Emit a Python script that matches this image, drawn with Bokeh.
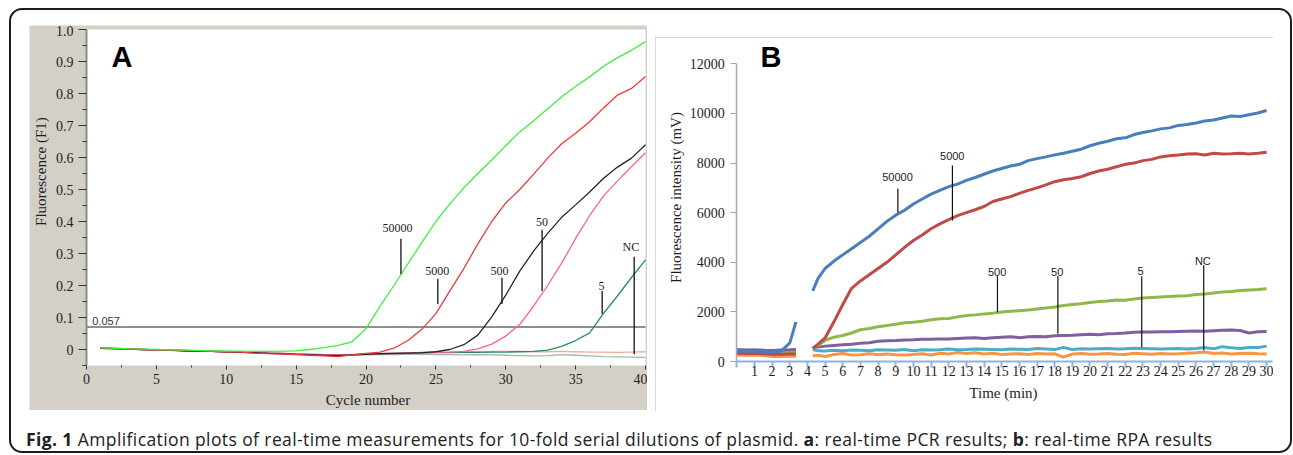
import math
from bokeh.plotting import figure
from bokeh.models import FixedTicker, Label, Div, PrintfTickFormatter, BoxAnnotation
from bokeh.layouts import row, column
from bokeh.embed import file_html
from bokeh.resources import INLINE
from bokeh.core.properties import value

NAN = float("nan")

# ---------------- Panel A : real-time PCR ----------------
cycles = list(range(1, 41))
a_50000 = [0.006, 0.004, 0.002, 0.001, 0.000, -0.001, -0.002, -0.003, -0.004, -0.005,
           -0.005, -0.006, -0.006, -0.005, -0.004, 0.000, 0.006, 0.013, 0.024, 0.065,
           0.135, 0.200, 0.268, 0.335, 0.400, 0.455, 0.505, 0.550, 0.592, 0.637,
           0.680, 0.715, 0.752, 0.790, 0.822, 0.852, 0.885, 0.912, 0.935, 0.962]
a_5000 = [0.005, 0.003, 0.002, 0.000, -0.001, -0.002, -0.003, -0.004, -0.006, -0.007,
          -0.008, -0.011, -0.013, -0.014, -0.016, -0.018, -0.020, -0.022, -0.017, -0.012,
          -0.008, 0.004, 0.028, 0.063, 0.112, 0.183, 0.253, 0.330, 0.400, 0.458,
          0.500, 0.548, 0.598, 0.643, 0.676, 0.712, 0.755, 0.795, 0.816, 0.853]
a_500 = [0.004, 0.003, 0.001, 0.000, -0.001, -0.002, -0.004, -0.005, -0.006, -0.007,
         -0.009, -0.010, -0.012, -0.013, -0.015, -0.016, -0.018, -0.019, -0.017, -0.015,
         -0.013, -0.012, -0.011, -0.010, -0.007, 0.000, 0.015, 0.045, 0.102, 0.170,
         0.245, 0.308, 0.363, 0.413, 0.452, 0.492, 0.535, 0.570, 0.598, 0.640]
a_50 = [0.005, 0.003, 0.002, 0.000, -0.001, -0.002, -0.003, -0.005, -0.006, -0.007,
        -0.008, -0.009, -0.011, -0.012, -0.014, -0.015, -0.016, -0.017, -0.016, -0.014,
        -0.013, -0.012, -0.011, -0.010, -0.009, -0.008, -0.006, 0.002, 0.017, 0.042,
        0.078, 0.136, 0.200, 0.270, 0.347, 0.418, 0.480, 0.527, 0.572, 0.615]
a_5 = [0.004, 0.003, 0.001, 0.000, -0.001, -0.003, -0.004, -0.005, -0.006, -0.007,
       -0.008, -0.010, -0.011, -0.012, -0.014, -0.015, -0.016, -0.017, -0.016, -0.015,
       -0.014, -0.013, -0.012, -0.011, -0.010, -0.010, -0.009, -0.009, -0.008, -0.008,
       -0.007, -0.006, -0.002, 0.010, 0.028, 0.052, 0.113, 0.168, 0.225, 0.280]
a_nc1 = [0.005, 0.004, 0.002, 0.001, -0.001, -0.002, -0.003, -0.004, -0.005, -0.006,
         -0.007, -0.009, -0.010, -0.012, -0.013, -0.015, -0.016, -0.017, -0.016, -0.014,
         -0.012, -0.011, -0.010, -0.009, -0.008, -0.008, -0.007, -0.007, -0.006, -0.006,
         -0.006, -0.007, -0.007, -0.006, -0.007, -0.008, -0.008, -0.009, -0.008, -0.007]
a_nc2 = [0.004, 0.003, 0.001, 0.000, -0.002, -0.003, -0.004, -0.005, -0.006, -0.008,
         -0.009, -0.010, -0.012, -0.013, -0.015, -0.016, -0.018, -0.019, -0.018, -0.017,
         -0.016, -0.016, -0.015, -0.015, -0.016, -0.016, -0.017, -0.016, -0.017, -0.018,
         -0.019, -0.020, -0.019, -0.016, -0.018, -0.020, -0.022, -0.023, -0.024, -0.025]
a_threshold = 0.07
a_threshold_text = "0.057"

a_lab_text = ["50000", "5000", "500", "50", "5", "NC"]
a_lab_x = [22.5, 25.14, 29.73, 32.6, 36.9, 39.19]
a_lab_y0 = [0.236, 0.142, 0.142, 0.183, 0.111, -0.015]
a_lab_y1 = [0.346, 0.221, 0.224, 0.374, 0.183, 0.290]
a_txt_x = [22.26, 25.09, 29.55, 32.6, 36.85, 38.95]
a_txt_y = [0.380, 0.246, 0.244, 0.400, 0.199, 0.321]

a_xlim = (0, 40)
a_ylim = (-0.05, 1.0)
a_xticks = [0, 5, 10, 15, 20, 25, 30, 35, 40]
a_xminor = [2.5, 7.5, 12.5, 17.5, 22.5, 27.5, 32.5, 37.5]
a_yticks = [0, 0.1, 0.2, 0.3, 0.4, 0.5, 0.6, 0.7, 0.8, 0.9, 1.0]
a_yminor = [-0.05, 0.05, 0.15, 0.25, 0.35, 0.45, 0.55, 0.65, 0.75, 0.85, 0.95]

# ---------------- Panel B : real-time RPA ----------------
b_time = [0, 0.5, 1, 1.5, 2, 2.5, 3, 3.35, NAN,
          4.3, 4.6, 5, 5.5, 6, 6.5, 7, 7.5, 8, 8.5, 9, 9.5, 10, 10.5, 11, 11.5, 12, 12.5,
          13, 13.5, 14, 14.5, 15, 15.5, 16, 16.5, 17, 17.5, 18, 18.5, 19, 19.5, 20, 20.5,
          21, 21.5, 22, 22.5, 23, 23.5, 24, 24.5, 25, 25.5, 26, 26.5, 27, 27.5, 28, 28.5,
          29, 29.5, 30]
b_50000 = [420, 410, 420, 400, 390, 410, 750, 1600, NAN,
           2850, 3350, 3750, 4050, 4300, 4550, 4800, 5050, 5350, 5650, 5900, 6100, 6350,
           6550, 6750, 6900, 7050, 7150, 7300, 7420, 7550, 7680, 7780, 7880, 7950, 8100,
           8180, 8250, 8330, 8400, 8480, 8560, 8700, 8800, 8880, 8980, 9020, 9150, 9230,
           9300, 9380, 9420, 9520, 9560, 9620, 9700, 9740, 9820, 9900, 9880, 9950, 10020,
           10120]
b_5000 = [330, 320, 330, 310, 290, 290, 300, 300, NAN,
          520, 700, 950, 1600, 2300, 2950, 3250, 3500, 3750, 4000, 4300, 4600, 4880,
          5100, 5350, 5550, 5720, 5880, 6000, 6120, 6250, 6450, 6550, 6650, 6780, 6900,
          7000, 7120, 7250, 7330, 7380, 7450, 7580, 7680, 7750, 7850, 7950, 8000, 8100,
          8150, 8250, 8300, 8330, 8370, 8380, 8330, 8400, 8370, 8380, 8400, 8370, 8400,
          8440]
b_500 = [380, 370, 370, 350, 330, 330, 340, 340, NAN,
         550, 650, 850, 980, 1050, 1150, 1280, 1330, 1400, 1450, 1500, 1560, 1580,
         1620, 1680, 1720, 1730, 1800, 1850, 1880, 1920, 1950, 2000, 2030, 2050, 2080,
         2120, 2160, 2200, 2260, 2300, 2330, 2380, 2420, 2440, 2480, 2470, 2520, 2560,
         2580, 2600, 2620, 2640, 2650, 2700, 2720, 2760, 2800, 2820, 2860, 2880, 2900,
         2930]
b_50 = [470, 460, 470, 450, 440, 460, 470, 480, NAN,
        560, 580, 620, 650, 680, 700, 740, 760, 820, 840, 850, 870, 880,
        900, 900, 910, 910, 930, 950, 960, 930, 960, 980, 1000, 960, 1000,
        1010, 1000, 1040, 1050, 1060, 1080, 1100, 1080, 1120, 1130, 1150, 1180, 1190,
        1190, 1200, 1200, 1210, 1220, 1230, 1220, 1240, 1260, 1270, 1250, 1150, 1200,
        1210]
b_5 = [470, 450, 440, 450, 430, 420, 430, 440, NAN,
       480, 430, 420, 450, 430, 460, 450, 430, 470, 460, 450, 480, 430,
       470, 460, 470, 500, 470, 480, 500, 490, 480, 470, 500, 490, 480,
       520, 500, 480, 570, 480, 510, 500, 510, 520, 500, 510, 530, 520,
       510, 500, 510, 520, 500, 520, 560, 510, 600, 550, 520, 560, 560,
       620]
b_nc = [260, 250, 260, 240, 200, 200, 210, 210, NAN,
        230, 250, 200, 280, 320, 260, 270, 310, 270, 300, 270, 260, 280,
        310, 260, 330, 300, 360, 320, 350, 300, 330, 280, 300, 310, 280,
        320, 300, 310, 180, 300, 320, 290, 300, 320, 290, 280, 330, 310,
        290, 320, 300, 310, 330, 350, 380, 320, 340, 300, 320, 330, 310,
        300]

b_lab_text = ["50000", "5000", "500", "50", "5", "NC"]
b_lab_x = [9.12, 12.21, 14.76, 18.18, 22.93, 26.44]
b_lab_y0 = [6008, 5685, 1988, 1116, 577, 444]
b_lab_y1 = [6975, 7903, 3440, 3440, 3440, 3880]
b_txt_x = [9.1, 12.2, 14.74, 18.14, 22.86, 26.39]
b_txt_y = [7420, 8290, 3620, 3620, 3660, 4060]

b_xlim = (0, 30.35)
b_ylim = (0, 12000)
b_xticks = list(range(0, 31))
b_yticks = [0, 2000, 4000, 6000, 8000, 10000, 12000]

SERIF = "Liberation Serif"
SANS = "Liberation Sans"
INK = "#1e1e1e"
GREY_BG = "#d4d0c8"

# ---------------- figure A ----------------
# the frame covers the whole grey panel; the white plotting area is a box annotation
pA = figure(width=618, height=385, x_range=(-4.079, 40.143), y_range=(-0.1906, 1.0125),
            output_backend="svg", toolbar_location=None,
            min_border=0, min_border_left=0, min_border_right=0, min_border_top=0,
            min_border_bottom=0,
            border_fill_color=GREY_BG, background_fill_color=GREY_BG)
pA.margin = (17, 8, 0, 20)
pA.title.visible = False
pA.grid.visible = False
pA.outline_line_color = None

pA.add_layout(BoxAnnotation(left=a_xlim[0], right=a_xlim[1], bottom=a_ylim[0], top=a_ylim[1],
                            fill_color="white", fill_alpha=1.0, line_color=None,
                            level="underlay"))

xa = pA.xaxis[0]
xa.fixed_location = a_ylim[0]
xa.bounds = a_xlim
xa.ticker = FixedTicker(ticks=a_xticks, minor_ticks=a_xminor)
xa.axis_line_color = None
xa.major_tick_out = 4
xa.major_tick_in = 0
xa.minor_tick_out = 2
xa.minor_tick_in = 0
xa.major_tick_line_color = "#333333"
xa.minor_tick_line_color = "#333333"
xa.major_label_text_font = SERIF
xa.major_label_text_font_size = "14px"
xa.major_label_text_color = INK
xa.major_label_standoff = 4

ya = pA.yaxis[0]
ya.fixed_location = a_xlim[0]
ya.bounds = a_ylim
ya.ticker = FixedTicker(ticks=a_yticks, minor_ticks=a_yminor)
ya.formatter = PrintfTickFormatter(format="%.1f")
ya.major_label_overrides = {0: "0"}
ya.axis_line_color = "#8c8c8c"
ya.axis_line_width = 2
ya.major_tick_out = 8
ya.major_tick_in = 0
ya.minor_tick_out = 4
ya.minor_tick_in = 0
ya.major_tick_line_color = "#333333"
ya.minor_tick_line_color = "#333333"
ya.major_label_text_font = SERIF
ya.major_label_text_font_size = "14px"
ya.major_label_text_color = INK
ya.major_label_standoff = 5

pA.add_layout(Label(x=20.14, y=-0.159, text="Cycle number", text_font=SERIF,
                    text_font_size="15px", text_color=INK, text_align="center",
                    text_baseline="middle"))
pA.add_layout(Label(x=-3.29, y=0.556, text="Fluorescence (F1)", text_font=SERIF,
                    text_font_size="15px", text_color=INK, text_align="center",
                    text_baseline="middle", angle=math.pi / 2))

pA.segment(x0=[a_xlim[0]], y0=[a_threshold], x1=[a_xlim[1]], y1=[a_threshold],
           line_color="#6a6a6a", line_width=1.5)
pA.add_layout(Label(x=0.41, y=0.078, text=a_threshold_text, text_font=SANS,
                    text_font_size="11px", text_color="#333333"))

a_series = [(a_nc2, "#a3b8aa"), (a_nc1, "#f6ab9e"), (a_5, "#2a8a63"), (a_50, "#ff5f9a"),
            (a_500, "#252525"), (a_5000, "#f03a3a"), (a_50000, "#3ef03e")]
for vals, col in a_series:
    pA.line(cycles, vals, line_color=col, line_width=1.3)

pA.segment(x0=a_lab_x, y0=a_lab_y0, x1=a_lab_x, y1=a_lab_y1, line_color="#111111", line_width=1.3)
pA.text(x=a_txt_x, y=a_txt_y, text=a_lab_text, text_font=value(SERIF), text_font_size="12px",
        text_align="center", text_baseline="alphabetic", text_color="#222222")
pA.add_layout(Label(x=1.79, y=0.865, text="A", text_font=SANS, text_font_style="bold",
                    text_font_size="29px", text_color="black"))

# ---------------- figure B ----------------
pB = figure(width=618, height=374, x_range=(-4.604, 30.391), y_range=(-2016, 13064),
            output_backend="svg", toolbar_location=None,
            min_border=0, min_border_left=0, min_border_right=0, min_border_top=0,
            min_border_bottom=0,
            border_fill_color="white", background_fill_color="white",
            styles={"outline": "2px solid #b2b2b2", "outline-offset": "-2px"})
pB.margin = (29, 19, 0, 0)
pB.title.visible = False
pB.grid.visible = False
pB.outline_line_color = None

xb = pB.xaxis[0]
xb.fixed_location = b_ylim[0]
xb.bounds = b_xlim
xb.ticker = FixedTicker(ticks=b_xticks)
xb.major_label_overrides = {0: ""}
xb.axis_line_color = "#8db4e2"
xb.axis_line_width = 2
xb.major_tick_line_color = "#8db4e2"
xb.major_tick_line_width = 2
xb.major_tick_out = 6
xb.major_tick_in = 0
xb.minor_tick_out = 0
xb.minor_tick_in = 0
xb.major_label_text_font = SERIF
xb.major_label_text_font_size = "14px"
xb.major_label_text_color = INK
xb.major_label_standoff = -2

yb = pB.yaxis[0]
yb.fixed_location = b_xlim[0]
yb.bounds = b_ylim
yb.ticker = FixedTicker(ticks=b_yticks)
yb.axis_line_color = "#a8a8a8"
yb.axis_line_width = 1.5
yb.major_tick_line_color = "#a8a8a8"
yb.major_tick_out = 6
yb.major_tick_in = 0
yb.minor_tick_out = 0
yb.minor_tick_in = 0
yb.major_label_text_font = SERIF
yb.major_label_text_font_size = "14px"
yb.major_label_text_color = INK
yb.major_label_standoff = 6

pB.add_layout(Label(x=15.1, y=-1250, text="Time (min)", text_font=SERIF,
                    text_font_size="15px", text_color=INK, text_align="center",
                    text_baseline="middle"))
pB.add_layout(Label(x=-3.47, y=6612, text="Fluorescence intensity (mV)", text_font=SERIF,
                    text_font_size="15px", text_color=INK, text_align="center",
                    text_baseline="middle", angle=math.pi / 2))

b_series = [(b_nc, "#f79646"), (b_5, "#4bacc6"), (b_50, "#7f5fa0"), (b_500, "#8fb74a"),
            (b_5000, "#be4b48"), (b_50000, "#4a7ebb")]
for vals, col in b_series:
    pB.line(b_time, vals, line_color=col, line_width=3)

pB.segment(x0=b_lab_x, y0=b_lab_y0, x1=b_lab_x, y1=b_lab_y1, line_color="#111111", line_width=1.2)
pB.text(x=b_txt_x, y=b_txt_y, text=b_lab_text, text_font=value(SANS), text_font_size="11px",
        text_align="center", text_baseline="alphabetic", text_color="#222222")
pB.add_layout(Label(x=1.34, y=11624, text="B", text_font=SANS, text_font_style="bold",
                    text_font_size="29px", text_color="black"))

# ---------------- caption & frame ----------------
caption = Div(
    text=('<div style="padding:17px 0 0 17px; font-family:\'Open Sans\'; font-size:17.5px; '
          'letter-spacing:0.4px; line-height:22px; color:#222; white-space:nowrap;">'
          '<b>Fig. 1</b> Amplification plots of real-time measurements for 10-fold serial '
          'dilutions of plasmid. <b>a</b>: real-time PCR results; <b>b</b>: real-time RPA results'
          '</div>'),
    width=1283, height=42, margin=0)

top = row(pA, pB, margin=0, spacing=0)
outer = column(top, caption, margin=(8, 0, 0, 9), spacing=0,
               styles={"outline": "2px solid #1c1c1c", "outline-offset": "-2px",
                       "border-radius": "13px", "background": "white"})

open("out.html", "w").write(file_html(outer, INLINE))
